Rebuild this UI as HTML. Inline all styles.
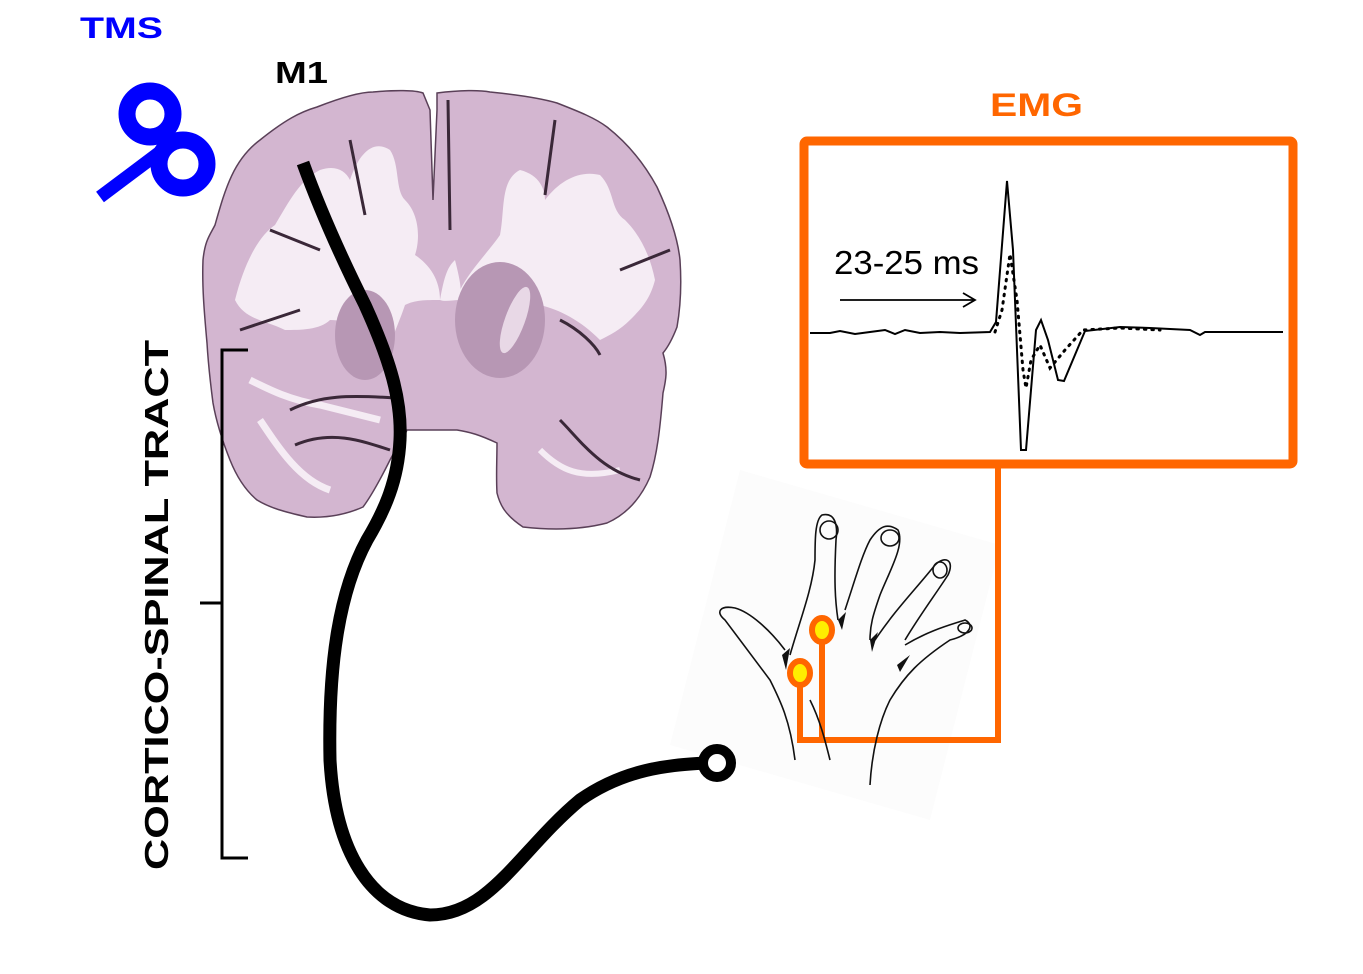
<!DOCTYPE html>
<html><head><meta charset="utf-8"><style>
html,body{margin:0;padding:0;background:#fff;}
svg{display:block}
text{font-family:"Liberation Sans",sans-serif;}
</style></head><body>
<svg width="1363" height="974" viewBox="0 0 1363 974" xmlns="http://www.w3.org/2000/svg">
<!-- hand paper background -->
<polygon points="740,470 1000,545 930,820 670,745" fill="#fcfcfc"/>
<!-- brain -->
<g>
<path d="M203,260 C205,240 210,235 215,225 C225,190 233,160 260,140 C285,120 300,112 317,107 C340,98 360,92 373,92 C395,90 415,90 423,93 L430,110 L433,200 L437,110 L437,93 C460,90 480,90 490,92 C520,95 540,98 557,103 C580,112 595,118 607,127 C630,145 645,165 657,187 C670,215 678,240 680,260 C682,290 680,310 677,327 C672,340 668,347 663,353 C668,370 666,380 663,393 C660,430 657,455 650,477 C640,500 625,515 607,523 C580,530 550,530 523,527 C505,515 500,505 497,493 C496,475 497,460 497,443 C480,435 470,432 457,430 L437,430 L407,430 C400,445 395,450 390,460 C380,480 372,495 363,507 C345,515 325,518 307,517 C285,512 270,508 257,500 C245,490 236,475 230,460 C222,440 216,420 213,403 C210,380 208,360 207,343 C204,310 202,285 203,260 Z" fill="#d3b6d0" stroke="#5a4058" stroke-width="1.5"/>
<path d="M235,300 C245,260 260,235 275,225 C290,200 300,180 320,170 C335,165 345,170 350,180 C360,150 375,140 390,150 C400,165 395,190 405,200 C420,215 420,240 415,255 C430,265 440,280 440,300 C425,300 415,300 405,305 C400,320 395,330 390,345 C370,330 350,320 330,320 C320,330 300,330 285,330 C265,320 245,320 235,300 Z" fill="#f5ecf4"/>
<path d="M460,290 C470,270 490,250 500,235 C505,210 500,180 520,170 C540,175 545,190 545,200 C560,180 580,170 600,175 C615,190 610,210 625,220 C640,235 650,255 655,280 C650,300 640,310 630,320 C620,330 610,335 600,340 C580,320 560,310 540,305 C520,300 500,295 480,298 C470,300 462,300 460,290 Z" fill="#f5ecf4"/>
<path d="M440,300 C445,270 450,265 455,260 C460,280 462,290 460,300 C452,300 445,302 440,300 Z" fill="#f5ecf4"/>
<ellipse cx="365" cy="335" rx="30" ry="45" fill="#b797b4"/>
<ellipse cx="500" cy="320" rx="45" ry="58" fill="#b797b4"/>
<ellipse cx="515" cy="320" rx="10" ry="35" fill="#e8d8e6" transform="rotate(20 515 320)"/>
<path d="M250,380 C270,390 290,400 320,405 C340,410 360,415 380,420 M260,420 C280,450 300,480 330,490" stroke="#f5ecf4" stroke-width="7" fill="none"/>
<path d="M540,450 C560,470 580,480 620,470" stroke="#f5ecf4" stroke-width="6" fill="none"/>
<path d="M448,100 L450,230 M350,140 L365,215 M555,120 L545,195 M270,230 L320,250 M620,270 L670,250 M240,330 L300,310 M290,410 C320,395 350,395 395,398 M295,445 C330,430 360,440 390,450 M560,420 C580,440 600,470 640,480 M560,320 C580,330 595,345 600,355" stroke="#3a2838" stroke-width="3" fill="none"/>
</g>
<!-- tract -->
<path d="M303,163 C320,210 340,255 365,305 C390,360 402,400 400,440 C398,480 385,510 367,540 C340,590 328,660 330,760 C335,850 370,910 430,915 C490,915 520,850 580,800 C630,765 680,765 705,763" fill="none" stroke="#000" stroke-width="13" stroke-linecap="butt"/>
<circle cx="717" cy="763" r="14" fill="none" stroke="#000" stroke-width="10"/>
<!-- bracket -->
<path d="M248,350 L222,350 L222,858 L248,858 M222,603 L200,603" stroke="#000" stroke-width="3" fill="none"/>
<text x="0" y="0" transform="translate(168,605) rotate(-90)" text-anchor="middle" font-size="33" font-weight="bold" fill="#000" textLength="530" lengthAdjust="spacingAndGlyphs">CORTICO-SPINAL TRACT</text>
<!-- TMS -->
<text x="80" y="38" font-size="30" font-weight="bold" fill="#0000ff" textLength="83" lengthAdjust="spacingAndGlyphs">TMS</text>
<line x1="100" y1="197" x2="160" y2="152" stroke="#0000ff" stroke-width="13"/>
<circle cx="150" cy="114" r="23" fill="none" stroke="#0000ff" stroke-width="17"/>
<circle cx="183" cy="164" r="24" fill="none" stroke="#0000ff" stroke-width="17"/>
<text x="275" y="83" font-size="31" font-weight="bold" fill="#000" textLength="53" lengthAdjust="spacingAndGlyphs">M1</text>
<!-- EMG -->
<text x="990" y="116" font-size="32" font-weight="bold" fill="#ff6600" textLength="93" lengthAdjust="spacingAndGlyphs">EMG</text>
<rect x="804" y="141" width="489" height="323" fill="#fff" stroke="#ff6600" stroke-width="9" rx="3"/>
<text x="834" y="274" font-size="33" fill="#000" textLength="145" lengthAdjust="spacingAndGlyphs">23-25 ms</text>
<line x1="840" y1="300" x2="975" y2="300" stroke="#000" stroke-width="1.8"/>
<path d="M963,293 L975,300 L963,307" fill="none" stroke="#000" stroke-width="1.8"/>
<path d="M810,333 L830,333 L840,331 L855,334 L870,332 L885,330 L895,334 L905,330 L920,333 L940,332 L960,333 L990,332 L996,322 L1007,181 L1013,250 L1021,450 L1026,450 L1036,330 L1041,320 L1048,340 L1058,380 L1064,381 L1085,331 L1120,327 L1150,328 L1190,330 L1200,335 L1205,332 L1240,332 L1260,332 L1283,332" fill="none" stroke="#000" stroke-width="2"/>
<path d="M995,332 L1002,310 L1010,254 L1017,300 L1023,370 L1026,388 L1031,360 L1040,345 L1050,368 L1065,350 L1083,330 L1120,328 L1160,330" fill="none" stroke="#000" stroke-width="3" stroke-dasharray="1.5,6" stroke-linecap="round"/>
<!-- connector -->
<path d="M998,468 L998,740 L800,740 L800,680 M822,740 L822,640" fill="none" stroke="#ff6600" stroke-width="6"/>
<!-- hand -->
<g fill="none" stroke="#111" stroke-width="1.6">
<path d="M795,760 C790,720 780,700 770,680 C755,660 740,640 725,620 C715,612 720,605 735,608 C750,612 770,630 785,650"/>
<path d="M790,655 C800,620 812,590 815,560 C815,540 815,520 822,515 C835,512 838,525 836,540 C834,580 835,600 838,620"/>
<path d="M845,610 C855,580 862,555 870,540 C880,525 888,523 898,530 C905,545 890,570 880,595 C873,615 870,625 870,640"/>
<path d="M875,640 C895,610 915,590 935,565 C945,555 955,560 948,575 C935,595 920,615 905,640"/>
<path d="M905,645 C930,630 950,625 965,620 C975,625 970,635 950,640 C920,660 905,675 890,700 C880,720 872,750 870,785"/>
<path d="M810,700 C820,720 825,740 830,760"/>
<ellipse cx="829" cy="530" rx="9" ry="9"/><ellipse cx="890" cy="538" rx="9" ry="8"/><ellipse cx="940" cy="570" rx="7" ry="8"/><ellipse cx="965" cy="628" rx="7" ry="5"/>
</g>
<path d="M782,655 L790,648 L786,670 Z M838,620 L846,612 L842,630 Z M870,640 L878,632 L872,652 Z M897,665 L910,655 L900,672 Z" fill="#111"/>
<ellipse cx="800" cy="673" rx="10" ry="12" fill="#ffee00" stroke="#ff6600" stroke-width="6"/>
<ellipse cx="822" cy="630" rx="10" ry="12" fill="#ffee00" stroke="#ff6600" stroke-width="6"/>
</svg>
</body></html>
